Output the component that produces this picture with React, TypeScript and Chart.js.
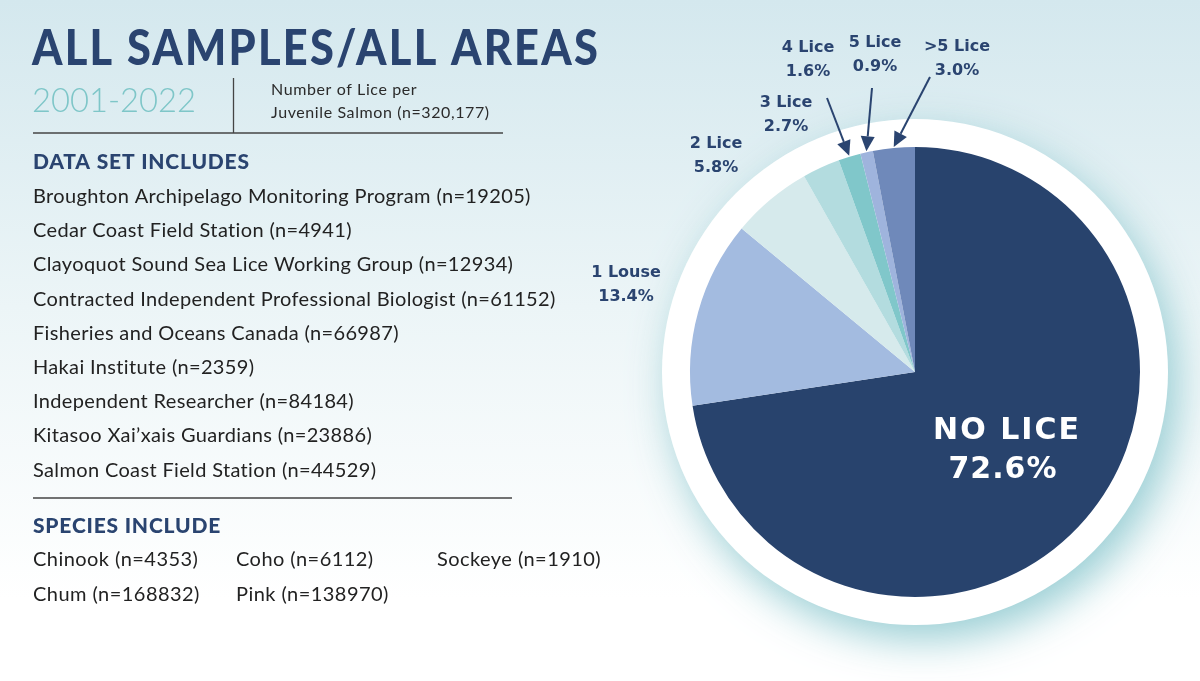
import React, { useEffect, useRef } from 'react';
import { Chart, registerables } from 'chart.js';

Chart.register(...registerables);

// ---------- data ----------
const categories = ['NO LICE', '1 Louse', '2 Lice', '3 Lice', '4 Lice', '5 Lice', '>5 Lice'];
const percentages = [72.6, 13.4, 5.8, 2.7, 1.6, 0.9, 3.0];
const sliceColors = ['#28436d', '#a3bbe0', '#d6eaec', '#b3dcdf', '#80c7ca', '#9fb4dd', '#6f89ba'];

const titleText = 'ALL SAMPLES/ALL AREAS';
const yearRange = '2001-2022';
const subtitleLines = ['Number of Lice per', 'Juvenile Salmon (n=320,177)'];
const dataSetHeading = 'DATA SET INCLUDES';
const dataSources = [
  'Broughton Archipelago Monitoring Program (n=19205)',
  'Cedar Coast Field Station (n=4941)',
  'Clayoquot Sound Sea Lice Working Group (n=12934)',
  'Contracted Independent Professional Biologist (n=61152)',
  'Fisheries and Oceans Canada (n=66987)',
  'Hakai Institute (n=2359)',
  'Independent Researcher (n=84184)',
  'Kitasoo Xai\u2019xais Guardians (n=23886)',
  'Salmon Coast Field Station (n=44529)',
];
const speciesHeading = 'SPECIES INCLUDE';
const speciesRow1 = ['Chinook (n=4353)', 'Coho (n=6112)', 'Sockeye (n=1910)'];
const speciesRow2 = ['Chum (n=168832)', 'Pink (n=138970)'];

// ---------- layout (positions / styles) ----------
const labelAnchors: [number, number][] = [
  [1007, 439], [626, 277], [716, 148], [786, 107], [808, 52], [875, 47], [957, 51],
];
const arrowTails: Record<number, [number, number]> = { 4: [827, 98], 5: [872, 88], 6: [930, 77] };
const NAVY = '#2a4470';
const BODY_FONT = '"Lato", "DejaVu Sans", sans-serif';

function setSpacing(ctx: any, v: string) {
  ctx.letterSpacing = v;
}

const decorPlugin = {
  id: 'decor',
  beforeDraw(chart: any) {
    const { ctx, width, height } = chart;
    ctx.save();
    const g = ctx.createLinearGradient(0, 0, 0, height);
    g.addColorStop(0, '#d4e8ee');
    g.addColorStop(0.45, '#ecf5f7');
    g.addColorStop(0.88, '#ffffff');
    ctx.fillStyle = g;
    ctx.fillRect(0, 0, width, height);
    ctx.restore();
  },
  beforeDatasetsDraw(chart: any) {
    const { ctx } = chart;
    const arc = chart.getDatasetMeta(0).data[0];
    if (!arc) return;
    ctx.save();
    ctx.shadowColor = 'rgba(135,198,205,0.85)';
    ctx.shadowBlur = 40;
    ctx.shadowOffsetX = 9;
    ctx.shadowOffsetY = 15;
    ctx.beginPath();
    ctx.arc(arc.x, arc.y, arc.outerRadius + 28, 0, Math.PI * 2);
    ctx.fillStyle = '#ffffff';
    ctx.fill();
    ctx.restore();
  },
  afterDatasetsDraw(chart: any) {
    const { ctx } = chart;
    const meta = chart.getDatasetMeta(0);
    ctx.save();
    ctx.textAlign = 'center';
    ctx.textBaseline = 'alphabetic';

    // slice labels
    categories.forEach((cat, i) => {
      const [lx, ly] = labelAnchors[i];
      const pct = percentages[i].toFixed(1) + '%';
      if (i === 0) {
        ctx.fillStyle = '#ffffff';
        ctx.font = 'bold 30px "DejaVu Sans", sans-serif';
        setSpacing(ctx, '2px');
        ctx.fillText(cat, lx, ly);
        setSpacing(ctx, '1px');
        ctx.fillText(pct, lx - 4, ly + 39);
        setSpacing(ctx, '0px');
      } else {
        ctx.fillStyle = NAVY;
        ctx.font = 'bold 16px "DejaVu Sans", sans-serif';
        ctx.fillText(cat, lx, ly);
        ctx.fillText(pct, lx, ly + 24);
      }
    });

    // arrows
    Object.keys(arrowTails).forEach((k) => {
      const i = Number(k);
      const el: any = meta.data[i];
      if (!el) return;
      const mid = (el.startAngle + el.endAngle) / 2;
      const tx = el.x + Math.cos(mid) * (el.outerRadius + 1);
      const ty = el.y + Math.sin(mid) * (el.outerRadius + 1);
      const [sx, sy] = arrowTails[i];
      const ang = Math.atan2(ty - sy, tx - sx);
      const headLen = 15;
      const headHalf = 7;
      const bx = tx - Math.cos(ang) * headLen;
      const by = ty - Math.sin(ang) * headLen;
      ctx.strokeStyle = NAVY;
      ctx.lineWidth = 2;
      ctx.beginPath();
      ctx.moveTo(sx, sy);
      ctx.lineTo(bx, by);
      ctx.stroke();
      ctx.fillStyle = NAVY;
      ctx.beginPath();
      ctx.moveTo(tx, ty);
      ctx.lineTo(bx + Math.sin(ang) * headHalf, by - Math.cos(ang) * headHalf);
      ctx.lineTo(bx - Math.sin(ang) * headHalf, by + Math.cos(ang) * headHalf);
      ctx.closePath();
      ctx.fill();
    });

    // left side text
    ctx.textAlign = 'left';
    ctx.fillStyle = NAVY;
    ctx.font = '900 49px "Lato", "DejaVu Sans", sans-serif';
    setSpacing(ctx, '2.5px');
    ctx.fillText(titleText, 32, 65, 568);

    ctx.fillStyle = '#7ec6c8';
    ctx.font = '300 33px "Lato", "DejaVu Sans", sans-serif';
    setSpacing(ctx, '0px');
    ctx.fillText(yearRange, 32, 112, 164);

    ctx.strokeStyle = '#444';
    ctx.lineWidth = 1.3;
    ctx.beginPath();
    ctx.moveTo(233.5, 78);
    ctx.lineTo(233.5, 133);
    ctx.stroke();
    ctx.beginPath();
    ctx.moveTo(33, 133);
    ctx.lineTo(503, 133);
    ctx.stroke();

    ctx.fillStyle = '#2b2b2b';
    ctx.font = '16px ' + BODY_FONT;
    setSpacing(ctx, '0.6px');
    ctx.fillText(subtitleLines[0], 271, 95);
    ctx.fillText(subtitleLines[1], 271, 118);

    ctx.fillStyle = NAVY;
    ctx.font = '900 21px "Lato", "DejaVu Sans", sans-serif';
    setSpacing(ctx, '0.8px');
    ctx.fillText(dataSetHeading, 33, 169);

    ctx.fillStyle = '#222';
    ctx.font = '20px ' + BODY_FONT;
    setSpacing(ctx, '0.35px');
    dataSources.forEach((s, i) => {
      ctx.fillText(s, 33, 203 + i * 34.2);
    });

    ctx.strokeStyle = '#444';
    ctx.beginPath();
    ctx.moveTo(33, 498);
    ctx.lineTo(512, 498);
    ctx.stroke();

    ctx.fillStyle = NAVY;
    ctx.font = '900 21px "Lato", "DejaVu Sans", sans-serif';
    setSpacing(ctx, '0.8px');
    ctx.fillText(speciesHeading, 33, 533);

    ctx.fillStyle = '#222';
    ctx.font = '20px ' + BODY_FONT;
    setSpacing(ctx, '0.45px');
    const colX = [33, 236, 437];
    speciesRow1.forEach((s, i) => ctx.fillText(s, colX[i], 566));
    speciesRow2.forEach((s, i) => ctx.fillText(s, colX[i], 601));
    setSpacing(ctx, '0px');

    ctx.restore();
  },
};

export default function App() {
  const canvasRef = useRef<HTMLCanvasElement | null>(null);

  useEffect(() => {
    if (!canvasRef.current) return;
    const chart = new Chart(canvasRef.current, {
      type: 'pie',
      data: {
        labels: categories,
        datasets: [
          {
            data: percentages,
            backgroundColor: sliceColors,
            borderWidth: 0,
          },
        ],
      },
      options: {
        responsive: false,
        animation: false,
        layout: { padding: { left: 690, right: 60, top: 147, bottom: 84 } },
        plugins: {
          legend: { display: false },
          tooltip: { enabled: false },
          title: { display: false },
        },
      },
      plugins: [decorPlugin],
    });
    return () => chart.destroy();
  }, []);

  return (
    <div style={{ position: 'fixed', left: 0, top: 0, width: 1200, height: 681 }}>
      <canvas ref={canvasRef} width={1200} height={681} style={{ display: 'block' }} />
    </div>
  );
}
